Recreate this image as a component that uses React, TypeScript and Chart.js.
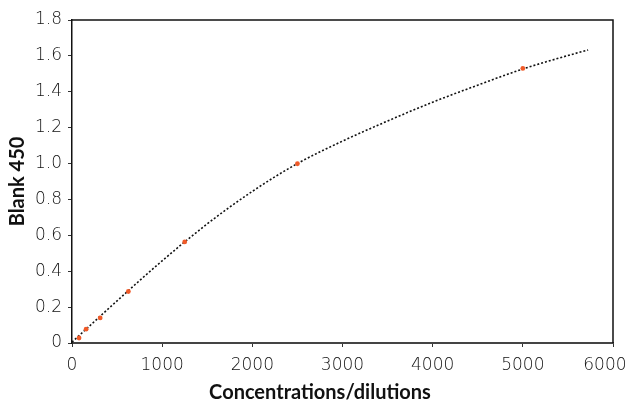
import React, { useEffect, useRef } from "react";
import { Chart, registerables } from "chart.js";

Chart.register(...registerables);

const concentrations = [78.125, 156.25, 312.5, 625, 1250, 2500, 5000];
const blank450 = [0.028, 0.077, 0.14, 0.287, 0.563, 0.999, 1.53];

const trendX = [0, 500, 1000, 1500, 2000, 2500, 3000, 3500, 4000, 4500, 5000, 5500, 5724];
const trendY = [0.005, 0.235, 0.458, 0.664, 0.845, 1.0, 1.125, 1.237, 1.342, 1.437, 1.527, 1.602, 1.633];

const xTitle = "Concentrations/dilutions";
const yTitle = "Blank 450";

const boxPlugin = {
  id: "boxPlugin",
  afterDraw(chart: any) {
    const { ctx, chartArea } = chart;
    ctx.save();
    ctx.strokeStyle = "#111";
    ctx.lineWidth = 1.5;
    ctx.beginPath();
    ctx.moveTo(chartArea.left, chartArea.top);
    ctx.lineTo(chartArea.right, chartArea.top);
    ctx.lineTo(chartArea.right, chartArea.bottom);
    ctx.stroke();
    // x axis title, centred on the canvas as in the reference
    ctx.fillStyle = "#111";
    ctx.font = "bold 20px Lato";
    ctx.textAlign = "center";
    ctx.textBaseline = "alphabetic";
    ctx.fillText(xTitle, chart.width / 2 + 5, 399);
    ctx.restore();
  },
};

export default function App() {
  const ref = useRef<HTMLCanvasElement>(null);
  useEffect(() => {
    document.body.style.margin = "0";
    const tickFont = { family: "'DejaVu Sans'", size: 17, weight: 200 as any };
    const titleFont = { family: "Lato", size: 20, weight: "bold" as any };
    const chart = new Chart(ref.current!, {
      type: "scatter",
      data: {
        datasets: [
          {
            label: "fit",
            data: trendX.map((x, i) => ({ x, y: trendY[i] })),
            showLine: true,
            borderColor: "#111",
            borderWidth: 1.6,
            borderDash: [2, 2],
            pointRadius: 0,
            cubicInterpolationMode: "monotone",
            order: 2,
          } as any,
          {
            label: "data",
            data: concentrations.map((x, i) => ({ x, y: blank450[i] })),
            backgroundColor: "#f05a28",
            borderColor: "#f05a28",
            pointRadius: 2.4,
            borderWidth: 0,
            order: 1,
          },
        ],
      },
      options: {
        animation: false,
        responsive: false,
        maintainAspectRatio: false,
        layout: { padding: { top: 20, right: 17, left: 0, bottom: 0 } },
        plugins: { legend: { display: false }, tooltip: { enabled: false } },
        scales: {
          x: {
            type: "linear",
            min: 0,
            max: 6000,
            ticks: {
              stepSize: 1000,
              color: "#111",
              font: tickFont,
              padding: 8,
              maxRotation: 0,
              callback: (v: any) => (v === 6000 ? "6000\u00a0\u00a0\u00a0" : String(v)),
            },
            grid: { drawOnChartArea: false, drawTicks: true, tickLength: 4, color: "#333" },
            border: { color: "#444", width: 2 },
            title: { display: false, text: xTitle },
            afterFit: (s: any) => { s.height = 60; s.paddingRight = 0; s.paddingLeft = 0; },
          },
          y: {
            min: 0,
            max: 1.8,
            ticks: {
              stepSize: 0.2,
              color: "#111",
              font: tickFont,
              padding: 6,
              callback: (v: any) => (v === 0 ? "0" : Number(v).toFixed(1)),
            },
            grid: { drawOnChartArea: false, drawTicks: true, tickLength: 4, color: "#333" },
            border: { color: "#111", width: 1.5 },
            title: { display: true, text: yTitle, color: "#111", font: titleFont, padding: { top: 6, bottom: 0 } },
            afterFit: (s: any) => { s.width = 72; },
          },
        },
      },
      plugins: [boxPlugin],
    });
    return () => chart.destroy();
  }, []);
  return (
    <div style={{ width: 630, height: 403 }}>
      <canvas ref={ref} width={630} height={403} style={{ display: "block" }} />
    </div>
  );
}
